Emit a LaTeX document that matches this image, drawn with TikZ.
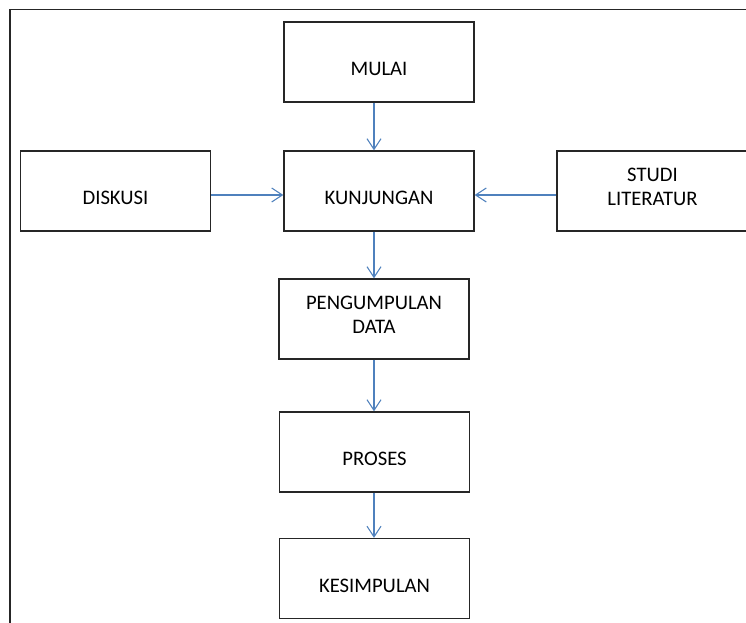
\documentclass[tikz,border=0pt]{standalone}
\usepackage{fontspec}
\setmainfont{Carlito}
\usepackage{tikz}
\usetikzlibrary{arrows.meta}
\definecolor{flowblue}{RGB}{79,129,189}

\begin{document}
\begin{tikzpicture}[x=0.75pt,y=-0.75pt]
        \tikzstyle{stepbox}=[draw=black!85,line width=1pt,minimum width=142.5pt,
        minimum height=60pt,inner sep=0pt,font=\fontsize{15.5}{18}\selectfont]
        \tikzstyle{oneline}=[text height=20.5pt,text depth=0pt]
        \tikzstyle{twoline}=[align=center,text depth=7pt]
        \tikzstyle{flow}=[draw=flowblue,line width=0.8pt,
        -{Straight Barb[length=8pt,width=10.5pt]}]

        \useasboundingbox (0,0) rectangle (746,623);

        %% Draw outer frame
        \draw[black!85,line width=1.1pt] (10,640) -- (10,9.5) -- (760,9.5);

        %% Draw steps
        \begin{scope}[
            every node/.style={stepbox}
        ]
            \node[oneline] (mulai) at (379,62) {MULAI};
            \node[oneline] (kunjungan) at (379,191) {KUNJUNGAN};
            \node[oneline] (diskusi) at (115.5,191) {DISKUSI};
            \node[twoline,minimum width=143.25pt] (studi) at (652.5,191) {STUDI\\LITERATUR};
            \node[twoline] (pengumpulan) at (374,319) {PENGUMPULAN\\DATA};
            \node[oneline] (proses) at (374.5,452) {PROSES};
            \node[oneline] (kesimpulan) at (374.5,578.5) {KESIMPULAN};
        \end{scope}

        %% Link steps
        \path[flow] (mulai.south -| pengumpulan.north) -- (kunjungan.north -| pengumpulan.north);
        \path[flow] ([yshift=-3pt]diskusi.east) -- ([yshift=-3pt]kunjungan.west);
        \path[flow] ([yshift=-3pt]studi.west) -- ([yshift=-3pt]kunjungan.east);
        \path[flow] (kunjungan.south -| pengumpulan.north) -- (pengumpulan.north);
        \path[flow] (pengumpulan.south) -- (proses.north -| pengumpulan.south);
        \path[flow] (proses.south -| pengumpulan.south) -- (kesimpulan.north -| pengumpulan.south);

\end{tikzpicture}
\end{document}
